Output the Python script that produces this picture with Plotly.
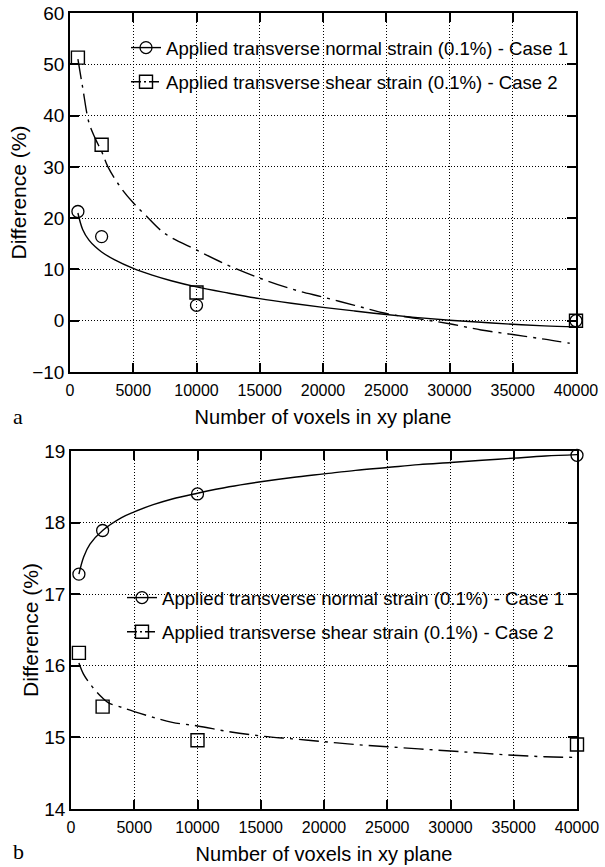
import plotly.graph_objects as go

W, H = 605, 867

# ---------------- data ----------------
voxels = [625, 2500, 10000, 40000]

# panel a : measured points
case1_a = [21.3, 16.4, 3.0, 0.0]
case2_a = [51.3, 34.3, 5.5, 0.0]

# panel a : fitted curves
fit1_a_x = [625, 1000, 1500, 2000, 2500, 3500, 5000, 6500, 8000, 10000, 12500, 15000,
            17500, 20000, 22500, 25000, 27500, 30000, 32500, 35000, 37500, 40000]
fit1_a_y = [21.0, 17.8, 15.7, 14.4, 13.4, 11.9, 10.2, 8.9, 7.8, 6.6, 5.4, 4.3,
            3.4, 2.6, 1.9, 1.2, 0.6, 0.1, -0.3, -0.7, -1.0, -1.2]
fit2_a_x = [625, 1000, 1500, 2000, 2500, 3000, 4000, 5000, 6000, 7500, 10000, 12500,
            15000, 17500, 20000, 22500, 25000, 27500, 30000, 32500, 35000, 37500, 39500]
fit2_a_y = [51.0, 45.5, 38.6, 35.5, 33.0, 30.0, 26.0, 23.0, 20.5, 17.0, 13.8, 10.8,
            8.3, 6.2, 4.6, 3.0, 1.4, 0.4, -0.6, -1.8, -2.7, -3.6, -4.4]

# panel b : measured points
case1_b = [17.28, 17.89, 18.40, 18.94]
case2_b = [16.18, 15.43, 14.96, 14.90]

# panel b : fitted curves
fit1_b_x = [625, 1000, 1500, 2500, 4000, 5000, 6500, 8000, 10000, 12500, 15000, 17500,
            20000, 22500, 25000, 27500, 30000, 32500, 35000, 37500, 40000]
fit1_b_y = [17.28, 17.52, 17.70, 17.89, 18.07, 18.15, 18.25, 18.33, 18.41, 18.50, 18.57, 18.63,
            18.68, 18.73, 18.77, 18.81, 18.84, 18.87, 18.90, 18.93, 18.95]
fit2_b_x = [625, 1000, 1500, 2000, 2500, 3000, 4000, 5000, 6500, 8000, 10000, 12500,
            15000, 17500, 20000, 22500, 25000, 27500, 30000, 32500, 35000, 37500, 40000]
fit2_b_y = [16.04, 15.88, 15.75, 15.64, 15.55, 15.48, 15.42, 15.36, 15.28, 15.21, 15.16, 15.08,
            15.02, 14.98, 14.94, 14.90, 14.87, 14.84, 14.81, 14.78, 14.75, 14.73, 14.72]

name1 = "Applied transverse normal strain (0.1%) - Case 1"
name2 = "Applied transverse shear strain (0.1%) - Case 2"
x_ticks = list(range(0, 40001, 5000))

# ---------------- styles ----------------
FONT = "Liberation Sans, Arial, Helvetica, sans-serif"
DASH2 = "20px,6px,3px,6px"
LW = 1.4
circ = dict(symbol="circle-open", size=12, color="black", line=dict(width=1.3, color="black"))
sq = dict(symbol="square-open", size=13, color="black", line=dict(width=1.4, color="black"))

fig = go.Figure()

def add_panel(xa, ya, leg, f1x, f1y, f2x, f2y, c1, c2):
    fig.add_trace(go.Scatter(x=f1x, y=f1y, mode="lines", line=dict(color="black", width=LW, shape="spline"),
                             xaxis=xa, yaxis=ya, showlegend=False, hoverinfo="skip"))
    fig.add_trace(go.Scatter(x=f2x, y=f2y, mode="lines", line=dict(color="black", width=LW, dash=DASH2, shape="spline"),
                             xaxis=xa, yaxis=ya, showlegend=False, hoverinfo="skip"))
    fig.add_trace(go.Scatter(x=voxels, y=c1, mode="markers", marker=circ, xaxis=xa, yaxis=ya,
                             showlegend=False, cliponaxis=False))
    fig.add_trace(go.Scatter(x=voxels, y=c2, mode="markers", marker=sq, xaxis=xa, yaxis=ya,
                             showlegend=False, cliponaxis=False))
    # legend entries
    fig.add_trace(go.Scatter(x=[None], y=[None], mode="lines+markers", name=name1, legend=leg, legendgroup=leg + "1",
                             line=dict(color="black", width=LW), marker=circ, xaxis=xa, yaxis=ya))
    fig.add_trace(go.Scatter(x=[None], y=[None], mode="lines+markers", name=name2, legend=leg, legendgroup=leg + "2",
                             line=dict(color="black", width=LW, dash="10px,3px,2px,3px"), marker=sq, xaxis=xa, yaxis=ya))

add_panel("x", "y", "legend", fit1_a_x, fit1_a_y, fit2_a_x, fit2_a_y, case1_a, case2_a)
add_panel("x2", "y2", "legend2", fit1_b_x, fit1_b_y, fit2_b_x, fit2_b_y, case1_b, case2_b)

axis_common = dict(showline=True, linecolor="black", linewidth=1.5, mirror="ticks",
                   ticks="inside", ticklen=9, tickwidth=1.5, tickcolor="black",
                   showgrid=True, gridcolor="black", gridwidth=1, griddash="1px,2px",
                   zeroline=False, automargin=False)

xtitle = dict(text="Number of voxels in xy plane", font=dict(size=20, family=FONT, color="black"), standoff=12)
ytitle = dict(text="Difference (%)", font=dict(size=21, family=FONT, color="black"), standoff=0)

fig.update_layout(
    width=W, height=H,
    margin=dict(l=0, r=0, t=0, b=0),
    paper_bgcolor="white", plot_bgcolor="white",
    font=dict(family=FONT, color="black"),
    xaxis=dict(domain=[70 / W, 576 / W], anchor="y", range=[0, 40000], tickvals=x_ticks, tickformat="d",
               tickfont=dict(size=16), ticklabelstandoff=3, title=xtitle, **axis_common),
    yaxis=dict(domain=[1 - 372 / H, 1 - 13 / H], anchor="x", range=[-10, 60], dtick=10,
               tickfont=dict(size=19), title=ytitle, **axis_common),
    xaxis2=dict(domain=[71 / W, 577 / W], anchor="y2", range=[0, 40000], tickvals=x_ticks, tickformat="d",
                tickfont=dict(size=16), ticklabelstandoff=3, title=xtitle, **axis_common),
    yaxis2=dict(domain=[1 - 809 / H, 1 - 451 / H], anchor="x2", range=[14, 19], dtick=1,
                tickfont=dict(size=19), title=ytitle, **axis_common),
    legend=dict(x=126 / W, y=1 - 29 / H, xanchor="left", yanchor="top", bgcolor="rgba(0,0,0,0)",
                font=dict(size=18.6, family=FONT, color="black"), tracegroupgap=7, traceorder="grouped"),
    legend2=dict(x=122 / W, y=1 - 579 / H, xanchor="left", yanchor="top", bgcolor="rgba(0,0,0,0)",
                 font=dict(size=18.6, family=FONT, color="black"), tracegroupgap=7, traceorder="grouped"),
    showlegend=True,
    annotations=[
        dict(text="a", x=11 / W, y=1 - 431 / H, xref="paper", yref="paper", xanchor="left", yanchor="bottom",
             showarrow=False, font=dict(size=22, family="Liberation Serif, Times New Roman, serif", color="black")),
        dict(text="b", x=11 / W, y=1 - 866 / H, xref="paper", yref="paper", xanchor="left", yanchor="bottom",
             showarrow=False, font=dict(size=22, family="Liberation Serif, Times New Roman, serif", color="black")),
    ],
)

fig.write_html("out.html")
